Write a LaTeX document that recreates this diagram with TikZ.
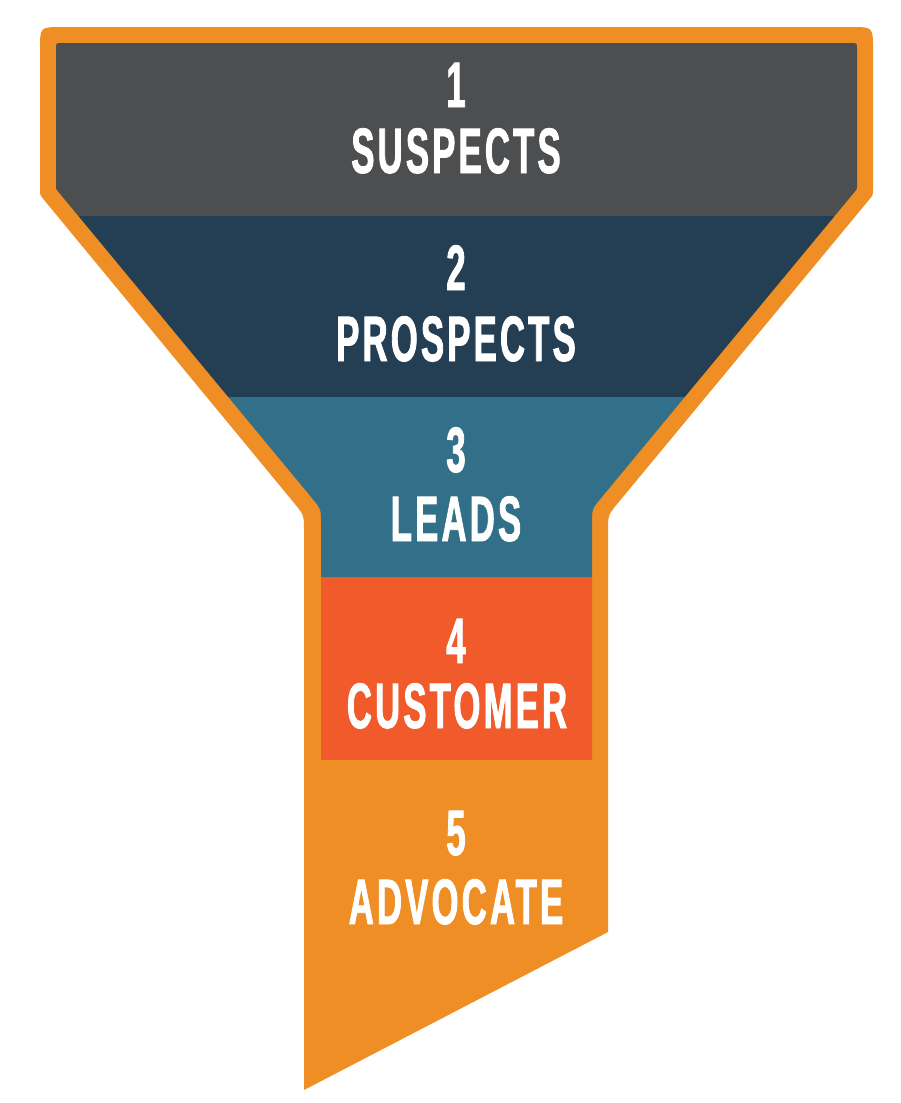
\documentclass[tikz,border=0pt]{standalone}
\usepackage{fontspec}
\newfontfamily\funnelfont{Liberation Sans}[FakeStretch=0.54,FakeBold=1.3,LetterSpace=5]
\usetikzlibrary{calc}
\definecolor{fOrange}{HTML}{EE8E25}
\definecolor{fGray}{HTML}{4D4E50}
\definecolor{fNavy}{HTML}{243F54}
\definecolor{fTeal}{HTML}{327089}
\definecolor{fRed}{HTML}{F15A2B}
\begin{document}
\begin{tikzpicture}[x=0.5pt,y=-0.5pt,
  lbl/.style={text=white,font=\funnelfont\bfseries\fontsize{32.1pt}{32pt}\selectfont,anchor=base,inner sep=0pt}]
\useasboundingbox (0,0) rectangle (900,1103);
% outer vertices
\coordinate (A) at (40,27);
\coordinate (B) at (873,27);
\coordinate (C) at (873,195);
\coordinate (D) at (608,515);
\coordinate (E) at (608,932);
\coordinate (F) at (304,1090);
\coordinate (G) at (304,515);
\coordinate (H) at (40,195);
% inner vertices
\coordinate (a) at (56,43);
\coordinate (b) at (857,43);
\coordinate (c) at (857,189);
\coordinate (d) at (592,509);
\coordinate (e) at (592,760);
\coordinate (f) at (321,760);
\coordinate (g) at (321,509);
\coordinate (h) at (56,189);
% outer orange shape
\fill[fOrange] ($(A)!11pt!(B)$) -- ($(B)!11pt!(A)$) .. controls (B) .. ($(B)!11pt!(C)$)
  -- ($(C)!3pt!(B)$) .. controls (C) .. ($(C)!3pt!(D)$)
  -- ($(D)!8pt!(C)$) .. controls (D) .. ($(D)!8pt!(E)$)
  -- (E) -- (F)
  -- ($(G)!8pt!(F)$) .. controls (G) .. ($(G)!8pt!(H)$)
  -- ($(H)!3pt!(G)$) .. controls (H) .. ($(H)!3pt!(A)$)
  -- ($(A)!11pt!(H)$) .. controls (A) .. ($(A)!11pt!(B)$) -- cycle;
% inner bands
\begin{scope}
\clip ($(a)!3pt!(b)$) -- ($(b)!3pt!(a)$) .. controls (b) .. ($(b)!3pt!(c)$)
  -- ($(c)!2pt!(b)$) .. controls (c) .. ($(c)!2pt!(d)$)
  -- ($(d)!7pt!(c)$) .. controls (d) .. ($(d)!7pt!(e)$)
  -- (e) -- (f)
  -- ($(g)!7pt!(f)$) .. controls (g) .. ($(g)!7pt!(h)$)
  -- ($(h)!2pt!(g)$) .. controls (h) .. ($(h)!2pt!(a)$)
  -- ($(a)!3pt!(h)$) .. controls (a) .. ($(a)!3pt!(b)$) -- cycle;
\fill[fGray] (0,0) rectangle (900,216);
\fill[fNavy] (0,216) rectangle (900,397);
\fill[fTeal] (0,397) rectangle (900,577);
\fill[fRed] (0,577) rectangle (900,760);
\end{scope}
% labels
\node[lbl] (n1) at (456,107) {1};
\node[lbl] (w1) at (456,173) {SUSPECTS};
\node[lbl] (n2) at (456,290) {2};
\node[lbl] (w2) at (456,361) {PROSPECTS};
\node[lbl] (n3) at (456,472) {3};
\node[lbl] (w3) at (456,541) {LEADS};
\node[lbl] (n4) at (456,663) {4};
\node[lbl] (w4) at (457,728) {CUSTOMER};
\node[lbl] (n5) at (456,855) {5};
\node[lbl] (w5) at (456,924) {ADVOCATE};
\end{tikzpicture}
\end{document}
